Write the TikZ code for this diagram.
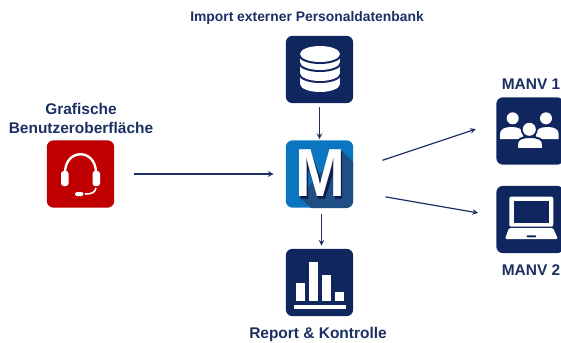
\documentclass[tikz,border=0pt]{standalone}
\usepackage{fontspec}
\setmainfont{Liberation Sans}
\definecolor{navy}{HTML}{10265F}
\definecolor{titlenavy}{HTML}{1B2F63}
\definecolor{tilered}{HTML}{C00000}
\definecolor{tileblue}{HTML}{0A76C0}
\definecolor{tileshadow}{HTML}{1F4E85}
\tikzset{
	tile/.style={rounded corners=5pt, minimum size=50.5pt, inner sep=0pt, fill=navy},
	caption/.style={text=titlenavy, font=\fontsize{11.6}{14.5}\selectfont\bfseries, align=center},
	conn/.style={-stealth, line width=0.9pt, color=titlenavy},
}

\begin{document}
\begin{tikzpicture}[x=0.75pt, y=-0.75pt]
		%%%%% START %%%%%
		\useasboundingbox (0, 0) rectangle (561, 343);
		
		\node[tile] (dbbox) at (319.5, 69.5) {};
		\node[tile, fill=tileblue] (mbox) at (319.5, 174) {};
		\node[tile] (reportbox) at (319.5, 282.5) {};
		\node[tile, fill=tilered] (guibox) at (80.5, 174) {};
		\node[tile] (manvabox) at (530, 131) {};
		\node[tile] (manvbbox) at (530, 219.5) {};
		
		\node[caption, font=\fontsize{10.4}{14}\selectfont\bfseries] (dbtext) at (307, 18) {Import externer Personaldatenbank};
		\node[caption] (guitext) at (81, 118.5) {Grafische\\Benutzeroberfläche};
		\node[caption] (reporttext) at (318, 334) {Report \& Kontrolle};
		\node[caption] (manvatext) at (531, 84) {MANV 1};
		\node[caption] (manvbtext) at (531, 270) {MANV 2};
		
		% database
		\foreach \yy in {84, 73, 62} {
			\fill[navy] (320, \yy + 2) ellipse [x radius=21, y radius=8];
			\fill[white] (320, \yy) ellipse [x radius=20, y radius=8];
			\fill[white] (300, \yy - 8) rectangle (340, \yy);
		}
		\fill[navy] (320, 56) ellipse [x radius=21, y radius=8];
		\fill[white] (320, 54) ellipse [x radius=20, y radius=8];
		
		% M tile
		\begin{scope}
			\clip[rounded corners=5pt] (286, 140) rectangle (353, 208);
			\fill[tileshadow] (341, 150) -- (353, 162) -- (353, 208) -- (311, 208) -- (299, 197) -- cycle;
		\end{scope}
		\fill[navy!80!black] (301, 151.5) -- (311, 151.5) -- (322, 183) -- (332, 151.5) -- (342, 151.5)
			-- (342, 198.5) -- (335, 198.5) -- (335, 168) -- (325, 198.5) -- (318, 198.5) -- (308, 168) -- (308, 198.5) -- (301, 198.5) -- cycle;
		\node[text=white, font=\fontsize{51}{51}\selectfont\bfseries, inner sep=0pt, xscale=0.88] (mletter) at (320, 173) {M};
		
		% bars
		\fill[white] (294, 305) rectangle (345.7, 309);
		\fill[white] (296, 283.3) rectangle (305, 300.7);
		\fill[white] (308.7, 261.7) rectangle (317.7, 300.7);
		\fill[white] (321.7, 274.7) rectangle (331, 300.7);
		\fill[white] (335, 291.7) rectangle (344, 300.7);
		
		% headset
		\draw[white, line width=1.8pt] (65, 173) .. controls (65, 148) and (96, 148) .. (96, 173);
		\fill[white, rounded corners=2pt] (61, 171) rectangle (68.5, 186);
		\fill[white, rounded corners=2pt] (92.5, 171) rectangle (100, 186);
		\draw[white, line width=1.2pt] (96, 188) .. controls (95, 193) and (91, 194) .. (85, 194);
		\fill[white, rounded corners=1.2pt] (75, 192) rectangle (83.5, 196);
		
		% people
		\fill[white] (512.7, 118.3) circle (6);
		\fill[white] (546, 118.3) circle (6);
		\fill[white] (500, 139) -- (500, 134) .. controls (500, 129) and (505, 127) .. (511.5, 127) .. controls (518, 127) and (523, 129) .. (523, 134) -- (523, 139) -- cycle;
		\fill[white] (536, 139) -- (536, 134) .. controls (536, 129) and (541, 127) .. (547.5, 127) .. controls (554, 127) and (558.7, 129) .. (558.7, 134) -- (558.7, 139) -- cycle;
		\fill[navy] (529.3, 129.3) circle (8.5);
		\draw[navy, fill=white, line width=1.5pt] (517, 149) -- (517, 144) .. controls (517, 139) and (522, 137) .. (530, 137) .. controls (538, 137) and (543, 139) .. (543, 144) -- (543, 149) -- cycle;
		\fill[white] (529.3, 129.3) circle (6.5);
		
		% laptop
		\fill[white, rounded corners=1.5pt] (509.3, 196.7) rectangle (553.3, 226.7);
		\fill[navy] (513.7, 200.7) rectangle (549.3, 222.7);
		\fill[white, rounded corners=1pt] (509, 228) -- (553, 228) -- (558, 239) -- (505, 239) -- cycle;
		\fill[navy, rounded corners=0.5pt] (526.7, 235.3) rectangle (536, 237.3);
		
		\draw[conn, shorten <=3pt, shorten >=0.75pt] (dbbox.south) -- (mbox.north);
		\draw[conn, shorten <=4.5pt, shorten >=2.2pt] ([xshift=1.5pt]mbox.south) -- ([xshift=1.5pt]reportbox.north);
		\draw[conn, shorten <=15pt, shorten >=9pt] (guibox.east) -- (mbox.west);
		\draw[conn, shorten <=23pt, shorten >=16pt] ([yshift=3pt]mbox.east) -- ([yshift=6.5pt]manvabox.west);
		\draw[conn, shorten <=24.4pt, shorten >=13.7pt] ([yshift=-13pt]mbox.east) -- ([yshift=2.6pt]manvbbox.west);
		%%%%% END %%%%%
	\end{tikzpicture}
\end{document}
